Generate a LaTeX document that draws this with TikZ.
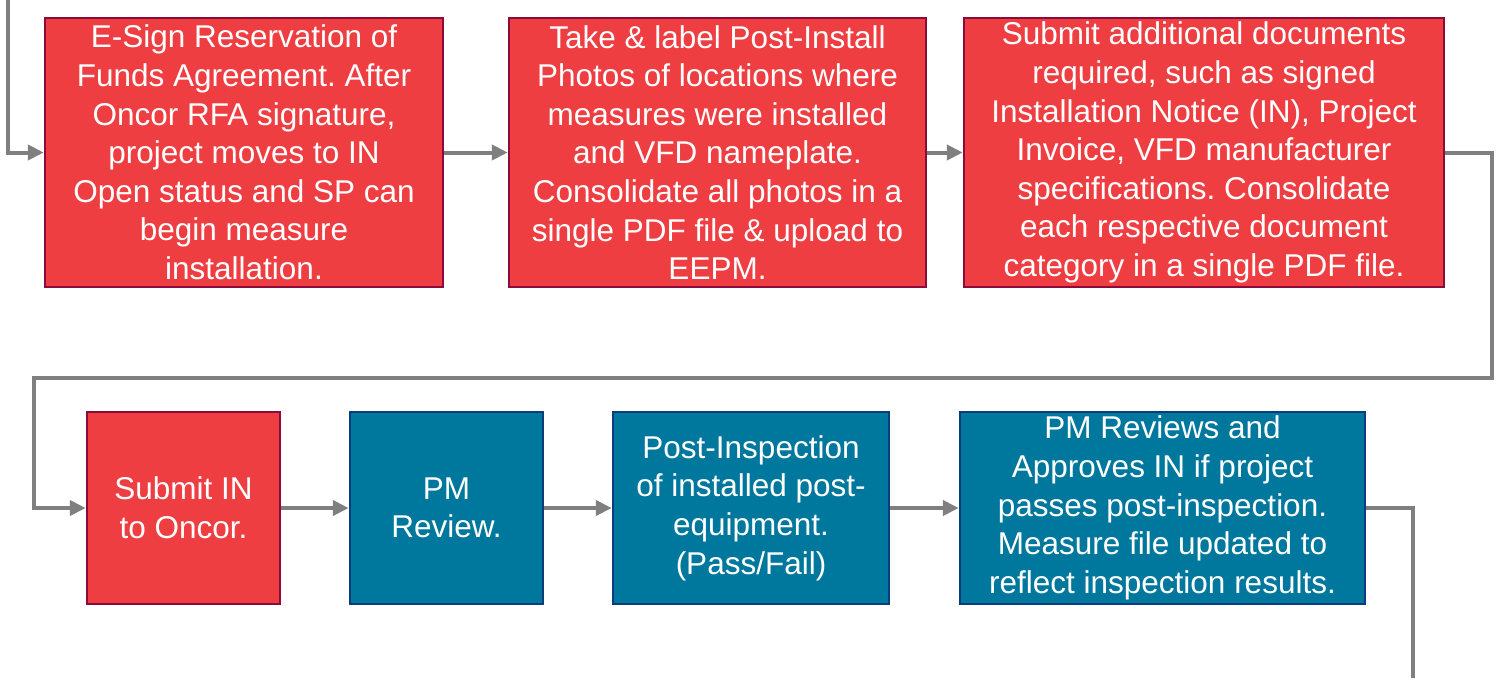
\documentclass[tikz,border=0pt]{standalone}
\usepackage{fontspec}
\setmainfont{Liberation Sans}
\usetikzlibrary{arrows.meta}
\frenchspacing
\definecolor{boxred}{HTML}{EF3E42}
\definecolor{boxredline}{HTML}{8C0A3C}
\definecolor{boxteal}{HTML}{00789D}
\definecolor{boxtealline}{HTML}{0B3D7E}
\definecolor{conn}{HTML}{7F7F7F}
\tikzset{
  redbox/.style={draw=boxredline, fill=boxred, line width=2.5pt, text=white, align=center, inner sep=0pt, font=\frenchspacing\fontsize{31.5}{38.6}\selectfont},
  tealbox/.style={draw=boxtealline, fill=boxteal, line width=2.5pt, text=white, align=center, inner sep=0pt, font=\frenchspacing\fontsize{31.5}{38.6}\selectfont},
  link/.style={draw=conn, line width=4pt, -{Triangle[length=16pt,width=15pt]}},
  plainlink/.style={draw=conn, line width=4pt}
}
\begin{document}
\begin{tikzpicture}[x=1pt,y=-1pt]
\useasboundingbox (0,0) rectangle (1496,678);
\node[redbox, minimum width=398pt, minimum height=269pt] (A) at (244,152.5) {E-Sign Reservation of\\Funds Agreement. After\\Oncor RFA signature,\\project moves to IN\\Open status and SP can\\begin measure\\installation.};
\node[redbox, minimum width=417pt, minimum height=269pt] (B) at (717.5,152.5) {Take \& label Post-Install\\Photos of locations where\\measures were installed\\and VFD nameplate.\\Consolidate all photos in a\\single PDF file \& upload to\\EEPM.};
\node[redbox, minimum width=480pt, minimum height=269pt] (C) at (1204,152.5) {Submit additional documents\\required, such as signed\\Installation Notice (IN), Project\\Invoice, VFD manufacturer\\specifications. Consolidate\\each respective document\\category in a single PDF file.};
\node[redbox, minimum width=193pt, minimum height=192pt] (D) at (183.5,508) {Submit IN\\to Oncor.};
\node[tealbox, minimum width=193pt, minimum height=192pt] (E) at (446.5,508) {PM\\Review.};
\node[tealbox, minimum width=276pt, minimum height=192pt] (F) at (751,508) {Post-Inspection\\of installed post-\\equipment.\\(Pass/Fail)};
\node[tealbox, minimum width=405pt, minimum height=192pt] (G) at (1162.5,508) {PM Reviews and\\Approves IN if project\\passes post-inspection.\\Measure file updated to\\reflect inspection results.};
\coordinate (s) at (8,0);
\coordinate (r1) at (1492,378);
\coordinate (r2) at (33.5,378);
\coordinate (e) at (1413,678);
\draw[link] (s) |- (A.west);
\draw[link] (A.east) -- (B.west);
\draw[link] (B.east) -- (C.west);
\draw[link] (C.east) -| (r1) -- (r2) |- (D.west);
\draw[link] (D.east) -- (E.west);
\draw[link] (E.east) -- (F.west);
\draw[link] (F.east) -- (G.west);
\draw[plainlink] (G.east) -| (e);
\end{tikzpicture}
\end{document}
